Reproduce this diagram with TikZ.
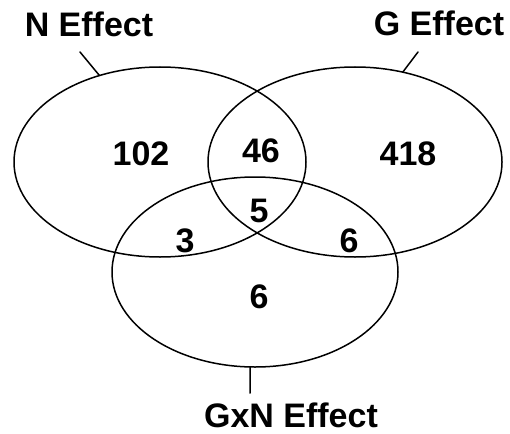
\documentclass[tikz,border=0pt]{standalone}
\usepackage{fontspec}
\setmainfont{Liberation Sans}
\usepackage{tikz}
\usetikzlibrary{shapes.geometric}

\tikzset{
  vennset/.style={draw=black,ellipse,line width=1.5pt,inner sep=0pt,outer sep=0pt},
  setlabel/.style={anchor=base,inner sep=0pt,font=\fontsize{34}{40}\selectfont\bfseries},
  count/.style={anchor=base,inner sep=0pt,font=\fontsize{34}{40}\selectfont\bfseries},
  tick/.style={line width=1.5pt}
}

\begin{document}
\begin{tikzpicture}[line cap=round,line join=round,x=1pt,y=-1pt]
        \useasboundingbox (0,0) rectangle (510,433);
        % the three sets
        \node[vennset,minimum width=292pt,minimum height=190pt] (nset) at (160,162) {};
        \node[vennset,minimum width=294pt,minimum height=190pt] (gset) at (355,162) {};
        \node[vennset,minimum width=286pt,minimum height=190pt] (gxnset) at (255,272) {};
        % set names and their ticks
        \node[setlabel] (nlabel) at (89,37) {N Effect};
        \node[setlabel] (glabel) at (439,36) {G Effect};
        \node[setlabel] (gxnlabel) at (291,427) {GxN Effect};
        \coordinate (ntick) at (80,52);
        \coordinate (gtick) at (418,52);
        \coordinate (gxntick) at (250,393);
        \draw[tick] (nset.125) -- (ntick);
        \draw[tick] (gset.62) -- (gtick);
        \draw[tick] (gxnset.267) -- (gxntick);
        % counts
        \node[count] (nonly) at (141,165) {102};
        \node[count] (ng) at (261,162) {46};
        \node[count] (gonly) at (408,165) {418};
        \node[count] (ngx) at (259,222) {5};
        \node[count] (nx) at (185,252) {3};
        \node[count] (gx) at (349,252) {6};
        \node[count] (xonly) at (259,308) {6};
\end{tikzpicture}
\end{document}
